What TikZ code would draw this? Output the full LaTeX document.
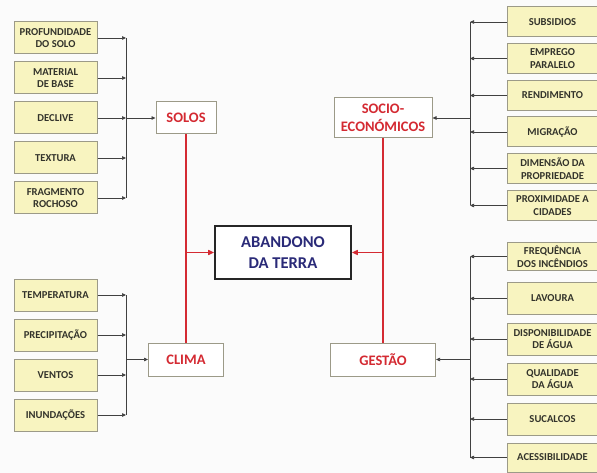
\documentclass[tikz,border=0pt]{standalone}
\usepackage{fontspec}
\setmainfont{Carlito}[BoldFont=Carlito Bold]
\usetikzlibrary{arrows.meta}
\definecolor{boxfill}{HTML}{F8F4C0}
\definecolor{boxline}{HTML}{9C9A88}
\definecolor{redc}{HTML}{D42A32}
\definecolor{navy}{HTML}{2A2A78}
\definecolor{txt}{HTML}{33332B}
\definecolor{bg}{HTML}{FBFBFB}
\begin{document}
\begin{tikzpicture}[x=1pt,y=-1pt,
 factor/.style={draw=boxline, line width=1pt, fill=boxfill, align=center,
   font=\bfseries\fontsize{10.6}{12.5}\selectfont, text=txt, inner sep=0pt},
 lfactor/.style={factor, minimum width=83pt, minimum height=32pt},
 rfactor/.style={factor, minimum width=91pt, minimum height=30pt},
 cat/.style={draw=boxline, line width=1pt, fill=white, text=redc,
   font=\bfseries\fontsize{14.5}{17.5}\selectfont, align=center, inner sep=0pt},
 link/.style={draw=black!75, line width=0.7pt, -{Triangle[length=4pt,width=3.5pt]}},
 bus/.style={draw=black!75, line width=0.7pt},
 redl/.style={draw=redc, line width=1.5pt},
 redarrow/.style={redl, -{Triangle[length=6pt,width=5pt]}},
]
\useasboundingbox[fill=bg] (0,0) rectangle (597,473);

% central node
\node[draw=black!85, line width=1.6pt, fill=white, minimum width=136pt, minimum height=53pt,
  align=center, inner sep=0pt, text=navy, font=\bfseries\fontsize{16.5}{21}\selectfont]
  (aband) at (283,252.5) {ABANDONO\\DA TERRA};

% category nodes
\node[cat, minimum width=60pt, minimum height=32pt] (solos) at (186,118) {SOLOS};
\node[cat, minimum width=75pt, minimum height=33pt] (clima) at (186,359.5) {CLIMA};
\node[cat, minimum width=98pt, minimum height=40pt] (socio) at (383,118) {SOCIO-\\ECONÓMICOS};
\node[cat, minimum width=105pt, minimum height=33pt] (gestao) at (383,359.5) {GESTÃO};

% left top factors
\node[lfactor] (prof) at (55.5,38) {PROFUNDIDADE\\DO SOLO};
\node[lfactor] (mat) at (55.5,78) {MATERIAL\\DE BASE};
\node[lfactor] (decl) at (55.5,118) {DECLIVE};
\node[lfactor] (text) at (55.5,158) {TEXTURA};
\node[lfactor] (frag) at (55.5,198) {FRAGMENTO\\ROCHOSO};

% left bottom factors
\node[lfactor] (temp) at (55.5,295) {TEMPERATURA};
\node[lfactor] (prec) at (55.5,335) {PRECIPITAÇÃO};
\node[lfactor] (vent) at (55.5,375) {VENTOS};
\node[lfactor] (inun) at (55.5,415) {INUNDAÇÕES};

% right top factors
\node[rfactor] (subs) at (552.5,22) {SUBSIDIOS};
\node[rfactor] (empr) at (552.5,58.5) {EMPREGO\\PARALELO};
\node[rfactor] (rend) at (552.5,95.5) {RENDIMENTO};
\node[rfactor] (migr) at (552.5,132) {MIGRAÇÃO};
\node[rfactor] (dime) at (552.5,168.5) {DIMENSÃO DA\\PROPRIEDADE};
\node[rfactor] (prox) at (552.5,205.5) {PROXIMIDADE A\\CIDADES};

% right bottom factors
\node[rfactor, minimum height=27pt] (freq) at (552.5,256.5) {FREQUÊNCIA\\DOS INCÊNDIOS};
\node[rfactor, minimum height=32pt] (lavo) at (552.5,298.5) {LAVOURA};
\node[rfactor, minimum height=32pt] (disp) at (552.5,339) {DISPONIBILIDADE\\DE ÁGUA};
\node[rfactor, minimum height=32pt] (qual) at (552.5,379) {QUALIDADE\\DA ÁGUA};
\node[rfactor, minimum height=32pt] (suca) at (552.5,419) {SUCALCOS};
\node[rfactor, minimum height=29pt] (aces) at (552.5,457.5) {ACESSIBILIDADE};

% bus coordinates
\coordinate (bLT) at (126,38);  \coordinate (bLTe) at (126,198);
\coordinate (bLB) at (126,295); \coordinate (bLBe) at (126,415);
\coordinate (bRT) at (470,22);  \coordinate (bRTe) at (470,205.5);
\coordinate (bRB) at (470,256.5); \coordinate (bRBe) at (470,457.5);

% left top
\draw[bus] (bLT) -- (bLTe);
\foreach \n in {prof,mat,decl,text,frag}
  \draw[link] (\n.east) -- (\n.east -| bLT);
\draw[link] (bLT |- solos.west) -- (solos.west);

% left bottom
\draw[bus] (bLB) -- (bLBe);
\foreach \n in {temp,prec,vent,inun}
  \draw[link] (\n.east) -- (\n.east -| bLB);
\draw[link] (bLB |- clima.west) -- (clima.west);

% right top
\draw[bus] (bRT) -- (bRTe);
\foreach \n in {subs,empr,rend,migr,dime,prox}
  \draw[link] (\n.west) -- (\n.west -| bRT);
\draw[link] (bRT |- socio.east) -- (socio.east);

% right bottom
\draw[bus] (bRB) -- (bRBe);
\foreach \n in {freq,lavo,disp,qual,suca,aces}
  \draw[link] (\n.west) -- (\n.west -| bRB);
\draw[link] (bRB |- gestao.east) -- (gestao.east);

% red connectors
\draw[redl] (solos.south) -- (clima.north);
\draw[redl] (socio.south) -- (gestao.north);
\draw[redarrow] (solos.south |- aband.west) -- (aband.west);
\draw[redarrow] (socio.south |- aband.east) -- (aband.east);
\end{tikzpicture}
\end{document}
